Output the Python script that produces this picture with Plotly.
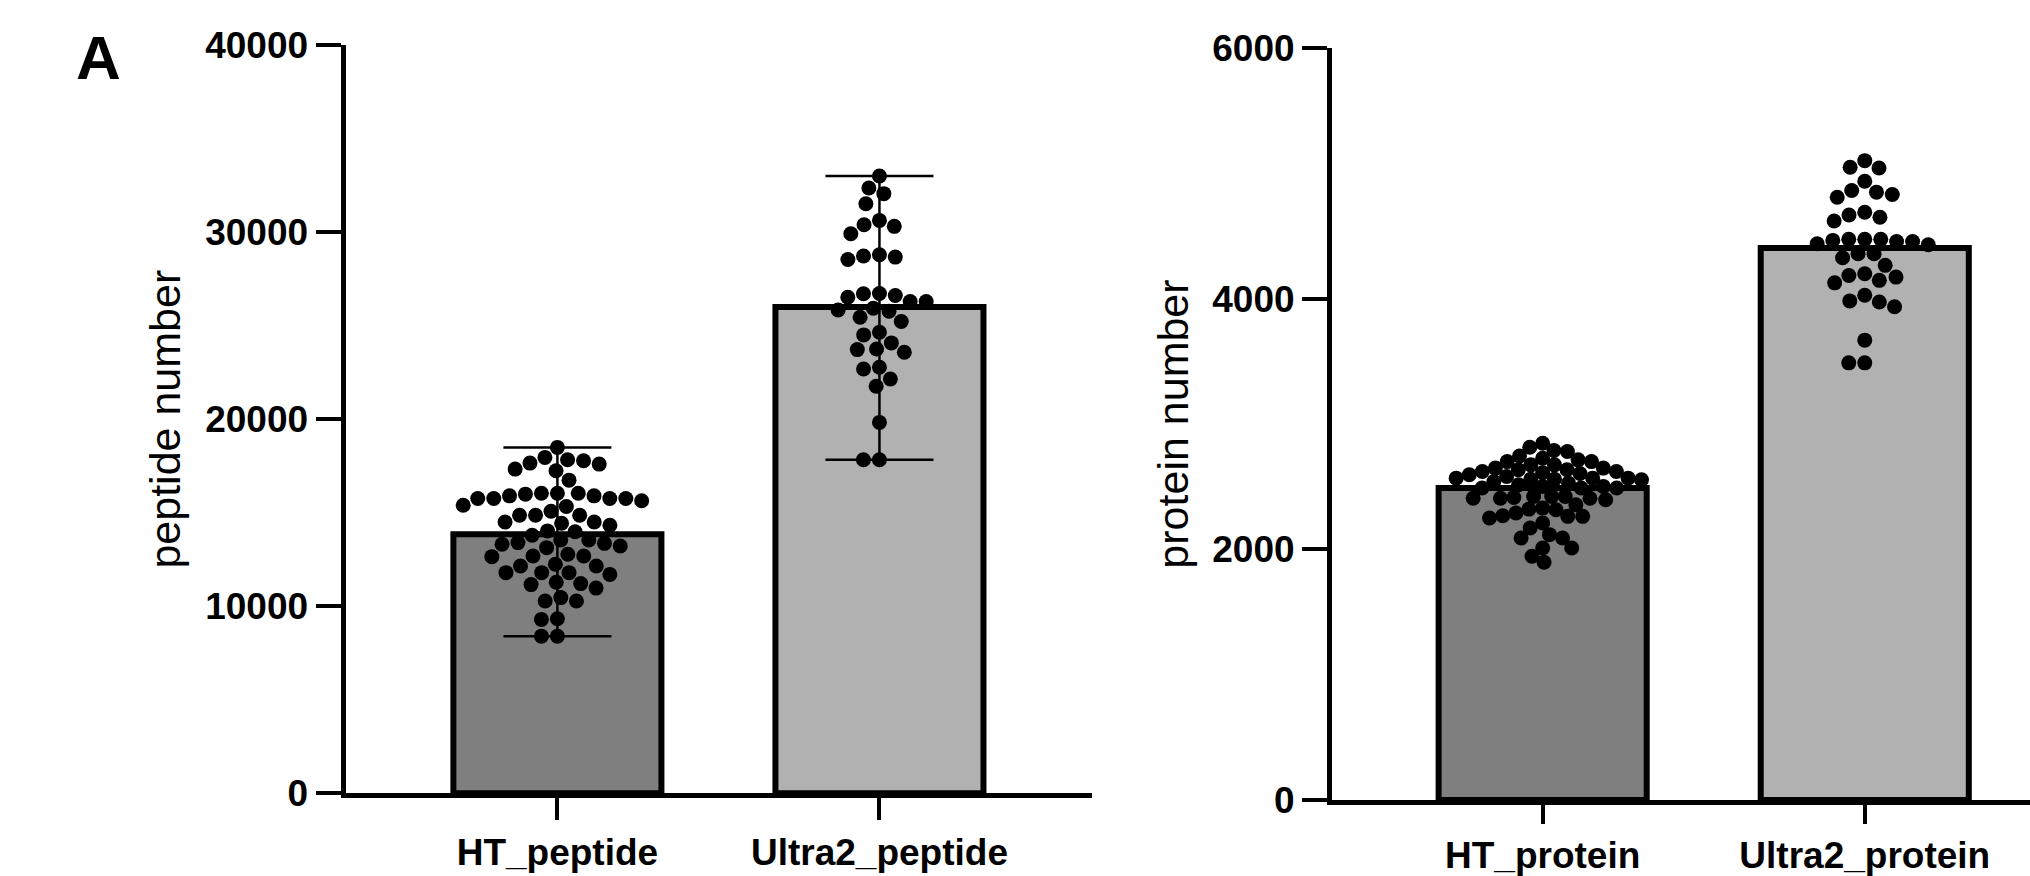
import numpy as np
import plotly.graph_objects as go

# ---------------- data ----------------
peptide_groups = ["HT_peptide", "Ultra2_peptide"]
protein_groups = ["HT_protein", "Ultra2_protein"]
peptide_means = [13850, 26000]
protein_means = [2490, 4405]

ht_peptide = [
    18490,
    17955, 17830, 17773, 17650, 17596, 17330, 17238,
    16739,
    16040, 16040, 16040, 15990, 15899, 15899, 15757, 15757, 15757, 15757, 15640, 15400, 15330,
    15080, 14860, 14860, 14860, 14500, 14500, 14437, 14330,
    14027, 13980, 13794,
    13220, 13400, 13130, 13310, 13540, 13540, 13360,
    12650, 12685, 12685, 12775,
    12150, 12150, 12240,
    11795, 11700, 11795, 11795,
    11210, 11155, 11280,
    10970,
    10280, 10460, 10280,
    9296, 9330,
    8400, 8400,
]
ultra2_peptide = [
    33000, 32054, 32358, 31518,
    30305, 30625, 29912, 30394,
    28663, 28720, 28537, 28787,
    26287, 26520, 26610, 26700, 26720, 26290,
    25930, 25770, 25840, 25450, 25217,
    24503, 24646, 24075,
    23575, 23718, 23750,
    22683, 22773, 22147, 21755,
    19826, 17826, 17826,
]
ht_protein = [
    2847, 2815, 2788, 2780, 2727, 2714,
    2635, 2700, 2745, 2700, 2674, 2648, 2635, 2674, 2648,
    2568, 2595, 2621, 2612, 2621, 2560, 2568, 2560, 2605, 2541, 2568, 2555, 2581,
    2528, 2502, 2489, 2502, 2489, 2489, 2515,
    2408, 2422, 2422, 2408, 2408, 2414, 2422, 2396,
    2321, 2263, 2290, 2356, 2329, 2250, 2263, 2316, 2268,
    2210, 2170,
    2117, 2090, 2090,
    2011, 2011,
    1945, 1897,
]
ultra2_protein = [
    5101, 5043, 5049, 4937,
    4831, 4863, 4850, 4809,
    4650, 4690, 4620, 4667,
    4465, 4474, 4438, 4430, 4456, 4456, 4474, 4474,
    4358, 4358, 4326,
    4266,
    4199, 4172, 4185, 4126, 4146,
    4027, 3982, 3935, 3974,
    3669,
    3488, 3488,
]
peptide_ticks = [0, 10000, 20000, 30000, 40000]
protein_ticks = [0, 2000, 4000, 6000]

# ---------------- styling / geometry ----------------
W, H = 2030, 876
FONT = "Liberation Sans, Arial, Helvetica, sans-serif"
BAR_COLORS = ["#7f7f7f", "#b1b1b1"]
DOT = 15
GAPS = [[16, 16], [13.5, 16]]   # dot spacing per panel / group (px)

LEFT = dict(x0=345.5, x1=1092, ybot=793.3, ytop=45, xr=[-0.658, 1.66], yr=[0, 40000], xtl=22)
RIGHT = dict(x0=1332, x1=2030, ybot=800, ytop=48, xr=[-0.654, 1.513], yr=[0, 6000], xtl=19)


def scales(p):
    xpx = (p["x1"] - p["x0"]) / (p["xr"][1] - p["xr"][0])
    ypx = (p["ybot"] - p["ytop"]) / (p["yr"][1] - p["yr"][0])
    return xpx, ypx


def swarm(vals, xpx, ypx, d):
    """Simple beeswarm: horizontal offsets (in data units) so dots don't overlap."""
    vals = np.asarray(vals, float)
    order = np.argsort(-vals, kind="stable")
    placed = []
    offs = np.zeros(len(vals))
    for i in order:
        y = vals[i] * ypx
        cands = [0.0]
        for px, py in placed:
            dy = y - py
            if abs(dy) < d:
                dx = np.sqrt(d * d - dy * dy)
                cands += [px + dx, px - dx]
        best = 0.0
        for c in sorted(cands, key=lambda v: (round(abs(v), 3), v)):
            if all((c - px) ** 2 + (y - py) ** 2 >= d * d - 1e-6 for px, py in placed):
                best = c
                break
        placed.append((best, y))
        offs[i] = best / xpx
    return offs


fig = go.Figure()


def add_panel(groups, means, series, p, xa, ya, errbars, gaps):
    xpx, ypx = scales(p)
    fig.add_trace(go.Bar(
        x=[0, 1], y=means, width=0.646,
        marker=dict(color=BAR_COLORS, line=dict(color="black", width=6)),
        xaxis=xa, yaxis=ya, hoverinfo="skip",
    ))
    if errbars:
        fig.add_trace(go.Scatter(
            x=[0, 1], y=means, mode="markers",
            marker=dict(size=1, opacity=0),
            error_y=dict(type="data", symmetric=False,
                         array=[max(s) - m for s, m in zip(series, means)],
                         arrayminus=[m - min(s) for s, m in zip(series, means)],
                         color="black", thickness=2.5, width=54),
            xaxis=xa, yaxis=ya, hoverinfo="skip",
        ))
    for k, s in enumerate(series):
        off = swarm(s, xpx, ypx, gaps[k])
        fig.add_trace(go.Scatter(
            x=k + off, y=s, mode="markers",
            marker=dict(size=DOT, color="black", line=dict(width=0)),
            xaxis=xa, yaxis=ya, cliponaxis=False,
        ))


add_panel(peptide_groups, peptide_means, [ht_peptide, ultra2_peptide], LEFT, "x", "y", True, GAPS[0])
add_panel(protein_groups, protein_means, [ht_protein, ultra2_protein], RIGHT, "x2", "y2", False, GAPS[1])

tickfont = dict(family=FONT, size=37, color="black", weight="bold")
titlefont = dict(family=FONT, size=43, color="black")


def xaxis(p, groups, anchor):
    return dict(domain=[p["x0"] / W, p["x1"] / W], range=p["xr"], anchor=anchor,
                tickvals=[0, 1], ticktext=groups, ticks="outside", ticklen=p["xtl"], tickwidth=4,
                tickcolor="black", showline=True, linewidth=5, linecolor="black",
                showgrid=False, zeroline=False, tickfont=tickfont, fixedrange=True,
                automargin=False)


def yaxis(p, ticks, title, anchor, standoff):
    return dict(domain=[1 - p["ybot"] / H, 1 - p["ytop"] / H], range=p["yr"], anchor=anchor,
                tickvals=ticks, tickformat="d", ticks="outside", ticklen=25, tickwidth=4,
                tickcolor="black", showline=True, linewidth=5, linecolor="black",
                showgrid=False, zeroline=False, tickfont=tickfont,
                title=dict(text=title, font=titlefont, standoff=standoff), fixedrange=True,
                automargin=False)


fig.update_layout(
    width=W, height=H, margin=dict(l=0, r=0, t=0, b=0, autoexpand=False),
    paper_bgcolor="white", plot_bgcolor="white", showlegend=False,
    barmode="overlay", hovermode=False,
    xaxis=xaxis(LEFT, peptide_groups, "y"),
    yaxis=yaxis(LEFT, peptide_ticks, "peptide number", "x", 13),
    xaxis2=xaxis(RIGHT, protein_groups, "y2"),
    yaxis2=yaxis(RIGHT, protein_ticks, "protein number", "x2", 12),
    annotations=[dict(text="<b>A</b>", x=74 / W, y=1 - 58 / H, xref="paper", yref="paper",
                      xanchor="left", yanchor="middle", showarrow=False,
                      font=dict(family=FONT, size=62, color="black"))],
)

fig.write_html(
    "out.html",
    config={"displayModeBar": False, "staticPlot": True},
    post_script="document.body.style.margin='0';document.body.style.overflow='hidden';",
)
